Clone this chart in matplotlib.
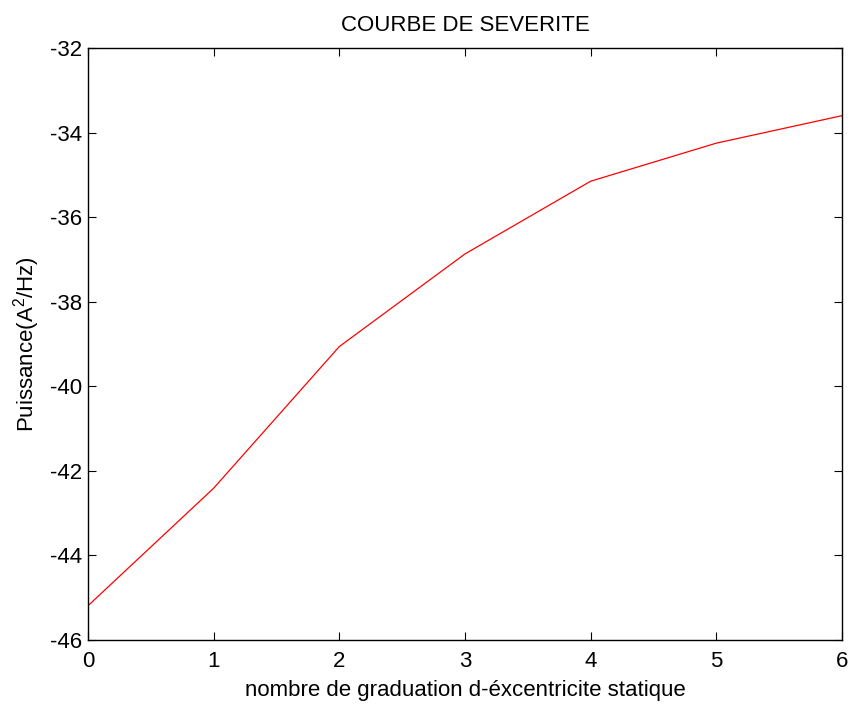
import matplotlib
matplotlib.use("Agg")
import matplotlib.pyplot as plt

x_vals = [0, 1, 2, 3, 4, 5, 6]
puissance = [-45.19, -42.41, -39.06, -36.87, -35.15, -34.25, -33.60]
x_ticks = [0, 1, 2, 3, 4, 5, 6]
y_ticks = [-46, -44, -42, -40, -38, -36, -34, -32]

plt.rcParams['font.family'] = ['Liberation Sans', 'DejaVu Sans']
plt.rcParams['mathtext.fontset'] = 'custom'
plt.rcParams['mathtext.rm'] = 'Liberation Sans'
plt.rcParams['mathtext.it'] = 'Liberation Sans'
plt.rcParams['axes.unicode_minus'] = False

fig = plt.figure(figsize=(8.5, 7.04), dpi=100)
ax = fig.add_axes([88/850, 64/704, 754/850, 592/704])
ax.plot(x_vals, puissance, color='red', linewidth=0.9)
ax.set_xlim(0, 6)
ax.set_ylim(-46, -32)
ax.set_xticks(x_ticks)
ax.set_yticks(y_ticks)
ax.tick_params(direction='in', top=True, right=True, length=6, width=0.8,
               labelsize=16)
ax.tick_params(axis='x', pad=8)
ax.tick_params(axis='y', pad=4)
for s in ax.spines.values():
    s.set_linewidth(1.0)
ax.set_title('COURBE DE SEVERITE', fontsize=16, pad=12)
ax.set_xlabel('nombre de graduation d-éxcentricite statique', fontsize=16, labelpad=6)
ax.set_ylabel('Puissance(A$^2$/Hz)', fontsize=16, labelpad=6)
fig.savefig('out.png', dpi=100)
